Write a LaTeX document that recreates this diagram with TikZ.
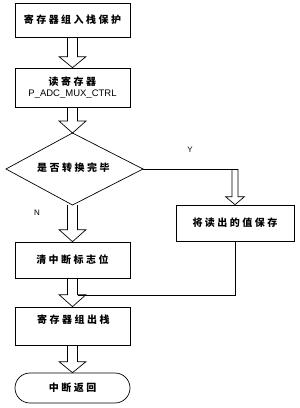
\documentclass[tikz,border=0pt]{standalone}
\usepackage{fontspec}
\setmainfont{Liberation Sans}
\newfontfamily\cjk[LetterSpace=25]{Noto Sans CJK SC}
\usetikzlibrary{calc}
\tikzset{
  conn/.style={draw=black, line width=0.7pt, line join=miter},
  box/.style={draw=black, line width=0.7pt, minimum width=115pt, inner sep=0pt, font=\cjk\bfseries\fontsize{10}{12}\selectfont},
  sbox/.style={draw=black, line width=0.7pt, minimum width=118pt, inner sep=0pt, font=\cjk\bfseries\fontsize{10}{12}\selectfont},
  txt/.style={inner sep=0pt, font=\cjk\bfseries\fontsize{10}{12}\selectfont},
  lbl/.style={inner sep=0pt, font=\fontsize{8}{9}\selectfont},
}
\newcommand{\harrow}[5]{%
  \draw[conn] let \p1=(#1), \p2=(#2) in
    (\x1-#3pt,\y1) -- (\x1-#3pt,\y2+#5pt) -- (\x1-#4pt,\y2+#5pt) -- (\x1,\y2)
    -- (\x1+#4pt,\y2+#5pt) -- (\x1+#3pt,\y2+#5pt) -- (\x1+#3pt,\y1);}
\begin{document}
\begin{tikzpicture}[x=1pt,y=1pt]
  \useasboundingbox[fill=white] (0,0) rectangle (300,-408);
  % boxes
  \node[box, minimum height=34pt] (b1) at (72.5,-20) {寄存器组入栈保护};
  \node[box, minimum height=39pt, align=center] (b2) at (72.5,-87.5)
     {读寄存器\\[-1pt]{\fontspec{Liberation Sans}\mdseries\fontsize{9.5}{11}\selectfont P\_ADC\_MUX\_CTRL}};
  % diamond
  \coordinate (dtop) at (72.5,-133);
  \coordinate (dright) at (143,-169);
  \coordinate (dbot) at (72.5,-205);
  \coordinate (dleft) at (6,-169);
  \draw[conn] (dtop) -- (dright) -- (dbot) -- (dleft) -- cycle;
  \node[txt] (dt) at (73.5,-168) {是否转换完毕};
  \node[sbox, minimum height=36pt] (b3) at (235,-223) {将读出的值保存};
  \node[box, minimum height=36pt] (b4) at (72.5,-260) {清中断标志位};
  \node[box, minimum height=38pt] (b5) at (72.5,-326) {};
  \node[txt] (b5t) at (73.5,-320) {寄存器组出栈};
  \node[box, minimum height=30pt, rounded corners=15pt] (t) at (72.5,-388) {中断返回};
  % labels
  \node[lbl] (ly) at (190,-150) {Y};
  \node[lbl] (ln) at (37,-213) {N};
  % hollow arrows
  \harrow{b1.south}{b2.north}{5}{13.5}{11}
  \harrow{b2.south}{dtop}{5}{13.5}{12}
  \harrow{dbot}{b4.north}{5}{13.5}{12}
  \harrow{b4.south}{b5.north}{5}{13.5}{12}
  \harrow{b5.south}{t.north}{5}{13.5}{11}
  % Y branch
  \coordinate (yc) at (235,-169);
  \draw[conn] (dright) -- ($(yc)+(3,0)$);
  \harrow{yc}{b3.north}{3}{9.5}{8}
  % merge
  \coordinate (mg) at (77.5,-295);
  \draw[conn] (b3.south) |- (mg);
\end{tikzpicture}
\end{document}
